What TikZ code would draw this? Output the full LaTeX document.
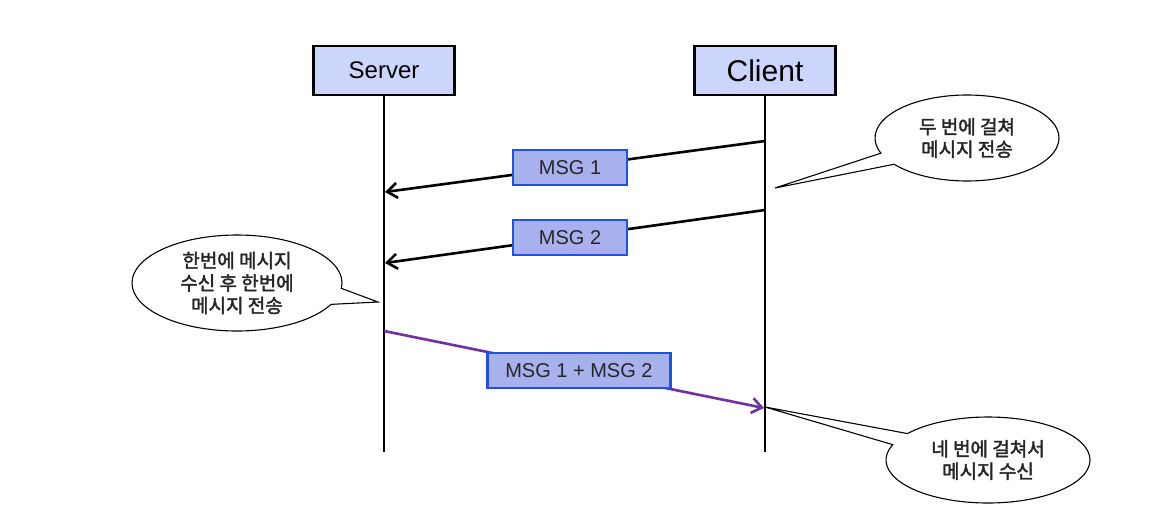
\documentclass[tikz,border=0pt]{standalone}
\usepackage{fontspec}
\setmainfont{Liberation Sans}
\newfontfamily\kr[FakeBold=2]{Noto Sans CJK KR}
\usetikzlibrary{arrows.meta,shapes.callouts}
\definecolor{hdrfill}{RGB}{204,214,252}
\definecolor{msgfill}{RGB}{168,176,238}
\definecolor{msgdraw}{RGB}{32,80,232}
\definecolor{purp}{RGB}{112,48,160}
\tikzset{
  hdr/.style={draw=black, line width=2.5pt, fill=hdrfill, minimum width=141pt, minimum height=49pt, inner sep=0pt},
  life/.style={draw=black, line width=2.6pt},
  msgline/.style={draw=black, line width=2.6pt, -{Straight Barb[length=10pt,width=15pt]}},
  purpline/.style={draw=purp, line width=2.6pt, -{Straight Barb[length=10pt,width=15pt]}},
  msgbox/.style={draw=msgdraw, line width=2.2pt, fill=msgfill, minimum width=114pt, minimum height=35pt, inner sep=0pt, font=\fontsize{20}{24}\selectfont, text=black!85},
  bubble/.style={ellipse callout, draw=black, line width=1.1pt, fill=white, inner sep=0pt, align=center, font=\kr\fontsize{19}{22.5}\selectfont, text=black!85}
}
\begin{document}
\begin{tikzpicture}[x=1pt,y=-1pt]
\useasboundingbox (0,0) rectangle (1172,517);
\fill[white] (0,0) rectangle (1172,517);

\node[hdr, font=\fontsize{24}{28}\selectfont] (server) at (384,70.5) {Server};
\node[hdr, font=\fontsize{30}{34}\selectfont] (client) at (765,70.5) {Client};

\coordinate (sEnd) at (384,452);
\coordinate (cEnd) at (765,452);
\draw[life] (server.south) -- (sEnd);
\draw[life] (client.south) -- (cEnd);

\coordinate (c1) at (765,141);
\coordinate (s1) at (385,192);
\coordinate (c2) at (765,210);
\coordinate (s2) at (385,263);
\coordinate (s3) at (384,331);
\coordinate (c3) at (764,408);

\draw[msgline] (c1) -- node[msgbox, pos=0.513] (m1) {MSG 1} (s1);
\draw[msgline] (c2) -- node[msgbox, pos=0.513] (m2) {MSG 2} (s2);
\draw[purpline] (s3) -- node[msgbox, minimum width=183pt, pos=0.513] (m3) {MSG 1 + MSG 2} (c3);

\coordinate (t1) at (775,188);
\coordinate (t2) at (378,302);
\coordinate (t3) at (765,407);

\node[bubble, minimum width=184pt, minimum height=86pt, callout pointer arc=17, callout absolute pointer={(t1)}] (k1) at (967,138) {두 번에 걸쳐\\메시지 전송};
\node[bubble, minimum width=210pt, minimum height=96pt, callout pointer arc=20, callout absolute pointer={(t2)}] (k2) at (237,283) {한번에 메시지\\수신 후 한번에\\메시지 전송};
\node[bubble, minimum width=204pt, minimum height=86pt, callout pointer arc=17, callout absolute pointer={(t3)}] (k3) at (988,460) {네 번에 걸쳐서\\메시지 수신};
\end{tikzpicture}
\end{document}
